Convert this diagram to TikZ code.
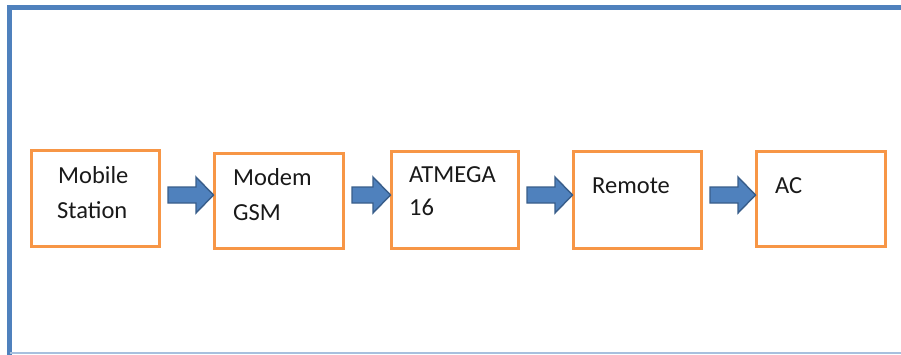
\documentclass[tikz,border=0pt]{standalone}
\usepackage{fontspec}
\setmainfont{Carlito}
\usetikzlibrary{calc}
\definecolor{frameblue}{HTML}{4F81BD}
\definecolor{framelight}{HTML}{A7C0DE}
\definecolor{boxorange}{HTML}{F79646}
\definecolor{arrfill}{HTML}{4F81BD}
\definecolor{arrdraw}{HTML}{385D8A}
\tikzset{
  blockbox/.style={draw=boxorange, line width=3pt, minimum width=#1, minimum height=96pt, inner sep=0pt},
  blockbox/.default=128pt,
  lbl/.style={anchor=base west, inner sep=0pt, font=\fontsize{24.5}{29}\selectfont, text=black!90},
  blk/.style={fill=arrfill, draw=arrdraw, line width=1.4pt, line join=miter}
}
\newcommand\blockarr[2]{%
  \draw[blk] let \p1=(#1.east), \p2=(#2.west), \n1={\x1+7pt}, \n2={\x2+0.5pt}, \n3={\x2-17pt} in
    (\n1,-187pt) -- (\n3,-187pt) -- (\n3,-177pt) -- (\n2,-195pt) -- (\n3,-213pt) -- (\n3,-203pt) -- (\n1,-203pt) -- cycle;}
\begin{document}
\begin{tikzpicture}[x=1pt,y=-1pt]
\useasboundingbox (0,0) rectangle (901,354);
\begin{scope}
\clip (0,0) rectangle (901,354);
\draw[frameblue, line width=4.5pt] (9.7,360) -- (9.7,7.5) -- (920,7.5);
\draw[framelight, line width=1.6pt] (9.7,353.2) -- (920,353.2);
\end{scope}
\node[blockbox] (b1) at (95.5,198.5) {};
\node[blockbox=129pt, minimum height=95pt] (b2) at (279,201) {};
\node[blockbox=127pt, minimum height=97pt] (b3) at (455,200) {};
\node[blockbox, minimum height=97pt] (b4) at (637.5,200) {};
\node[blockbox=129pt, minimum height=95pt] (b5) at (821,199) {};
\node[lbl] (t1a) at (58,183) {Mobile};
\node[lbl] (t1b) at (57,218) {Station};
\node[lbl] (t2a) at (233,185) {Modem};
\node[lbl] (t2b) at (233,220) {GSM};
\node[lbl] (t3a) at (409,182) {ATMEGA};
\node[lbl] (t3b) at (409,215) {16};
\node[lbl] (t4) at (592,193) {Remote};
\node[lbl] (t5) at (775,193) {AC};
\blockarr{b1}{b2}
\blockarr{b2}{b3}
\blockarr{b3}{b4}
\blockarr{b4}{b5}
\end{tikzpicture}
\end{document}
